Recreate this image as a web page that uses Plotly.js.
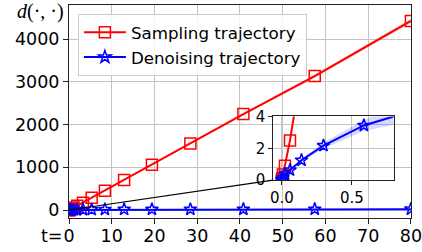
<!DOCTYPE html>
<html>
<head>
<meta charset="utf-8">
<script src="https://cdn.plot.ly/plotly-3.0.1.min.js"></script>
<style>html,body{margin:0;padding:0;background:#fff;}#chart{width:422px;height:252px;}</style>
</head>
<body>
<div id="chart"></div>
<script>
// time steps (shared by both trajectories)
const t = [80, 57.5, 40.8, 28.4, 19.4, 12.9, 8.4, 5.3, 3.26, 1.92, 1.09, 0.585, 0.297, 0.14, 0.058, 0.022, 0.0075, 0.002, 0];
// sampling trajectory distance
const sampling = [4430, 3138, 2248, 1561, 1062, 703, 452, 288, 171, 100, 58, 30, 15, 7, 2.5, 0.9, 0.35, 0.1, 0];
const samplingStd = [50, 36, 26, 18, 12, 8, 5, 3.3, 2, 1.2, 0.7, 0.35, 0.18, 0.08, 0.03, 0.01, 0.004, 0.001, 0];
// denoising trajectory distance
const denoising = [20, 19, 18, 17, 16, 15, 13, 11, 9, 7, 4.8, 3.44, 2.17, 1.25, 0.63, 0.36, 0.15, 0.05, 0];
const denoisingStd = [10, 8.5, 7.5, 6.5, 5.5, 4.5, 3.5, 2.5, 1.8, 1.2, 0.8, 0.35, 0.2, 0.1, 0.05, 0.03, 0.01, 0.005, 0];

const xTicks = [0, 10, 20, 30, 40, 50, 60, 70, 80];
const xTickText = ['0', '10', '20', '30', '40', '50', '60', '70', '80'];
const yTicks = [0, 1000, 2000, 3000, 4000];
const insetXTicks = [0, 0.5];
const insetXTickText = ['0.0', '0.5'];
const insetYTicks = [0, 2, 4];

const RED = '#ff0000', BLUE = '#0000ff';
const xRange = [0, 80.02], yRange = [-187, 4804];
const insetXRange = [-0.062, 0.797], insetYRange = [0, 4.01];
const insetDomX = [0.597, 0.949], insetDomY = [0.178, 0.477];

function band(y, s, color, xa, ya) {
  const up = y.map((v, i) => v + s[i]);
  const lo = y.map((v, i) => v - s[i]);
  return [
    {x: t, y: up, xaxis: xa, yaxis: ya, mode: 'lines', line: {width: 0, color: color}, showlegend: false, hoverinfo: 'skip'},
    {x: t, y: lo, xaxis: xa, yaxis: ya, mode: 'lines', line: {width: 0, color: color}, fill: 'tonexty', fillcolor: color, showlegend: false, hoverinfo: 'skip'}
  ];
}
function series(xa, ya, legend) {
  return [
    ...band(sampling, samplingStd, 'rgba(255,0,0,0.22)', xa, ya),
    {x: t, y: sampling, xaxis: xa, yaxis: ya, name: 'Sampling trajectory', mode: 'lines+markers', showlegend: legend,
     line: {color: RED, width: 2}, marker: {symbol: 'square-open', size: 11, color: RED, line: {width: 1.5, color: RED}}},
    ...band(denoising, denoisingStd, 'rgba(0,0,255,0.15)', xa, ya),
    {x: t, y: denoising, xaxis: xa, yaxis: ya, name: 'Denoising trajectory', mode: 'lines+markers', showlegend: legend,
     line: {color: BLUE, width: 2}, marker: {symbol: 'star-open', size: 9.5, color: BLUE, line: {width: 1.5, color: BLUE}}}
  ];
}

const data = [...series('x', 'y', true), ...series('x2', 'y2', false)];

const axisCommon = {showline: true, mirror: true, linecolor: '#222', linewidth: 1, ticks: 'outside', tickcolor: '#222',
  tickwidth: 1, showgrid: true, gridcolor: '#c4c4c4', gridwidth: 1, zeroline: false};

const layout = {
  width: 422, height: 252,
  margin: {l: 69, r: 11.4, t: 5, b: 34},
  paper_bgcolor: '#fff', plot_bgcolor: 'rgba(0,0,0,0)',
  font: {family: 'DejaVu Sans', color: '#000'},
  showlegend: true,
  legend: {x: 0.026, y: 0.958, xanchor: 'left', yanchor: 'top', traceorder: 'normal', itemwidth: 42,
    bgcolor: 'rgba(255,255,255,0.85)', bordercolor: '#cccccc', borderwidth: 1, font: {size: 16.7, family: 'DejaVu Sans'}},
  xaxis: Object.assign({}, axisCommon, {range: xRange, tickvals: xTicks, ticktext: xTickText, ticklen: 5,
    tickfont: {size: 17.5}, ticklabelstandoff: -3, ticklabeloverflow: 'allow', domain: [0, 1]}),
  yaxis: Object.assign({}, axisCommon, {range: yRange, tickvals: yTicks, ticklen: 5, tickfont: {size: 17.5}}),
  xaxis2: Object.assign({}, axisCommon, {range: insetXRange, tickvals: insetXTicks, ticktext: insetXTickText,
    ticklen: 4, tickfont: {size: 15}, domain: insetDomX, anchor: 'y2'}),
  yaxis2: Object.assign({}, axisCommon, {range: insetYRange, tickvals: insetYTicks, ticklen: 4,
    tickfont: {size: 15}, domain: insetDomY, anchor: 'x2'}),
  shapes: [{type: 'line', xref: 'paper', yref: 'paper',
    x0: 0, y0: (0 - yRange[0]) / (yRange[1] - yRange[0]), x1: insetDomX[0], y1: insetDomY[0],
    line: {color: '#000', width: 1.2}}],
  annotations: [
    {text: '<i>d</i>(·, ·)', xref: 'paper', yref: 'paper', x: -0.158, y: 0.968, xanchor: 'left', yanchor: 'middle',
     showarrow: false, font: {family: 'Liberation Serif', size: 20}},
    {text: 't=', xref: 'x', yref: 'paper', x: 0, y: -0.085, xanchor: 'right', yanchor: 'middle', xshift: -4,
     showarrow: false, font: {family: 'DejaVu Sans', size: 17.5}}
  ]
};

Plotly.newPlot('chart', data, layout, {staticPlot: true, displayModeBar: false});
</script>
</body>
</html>
